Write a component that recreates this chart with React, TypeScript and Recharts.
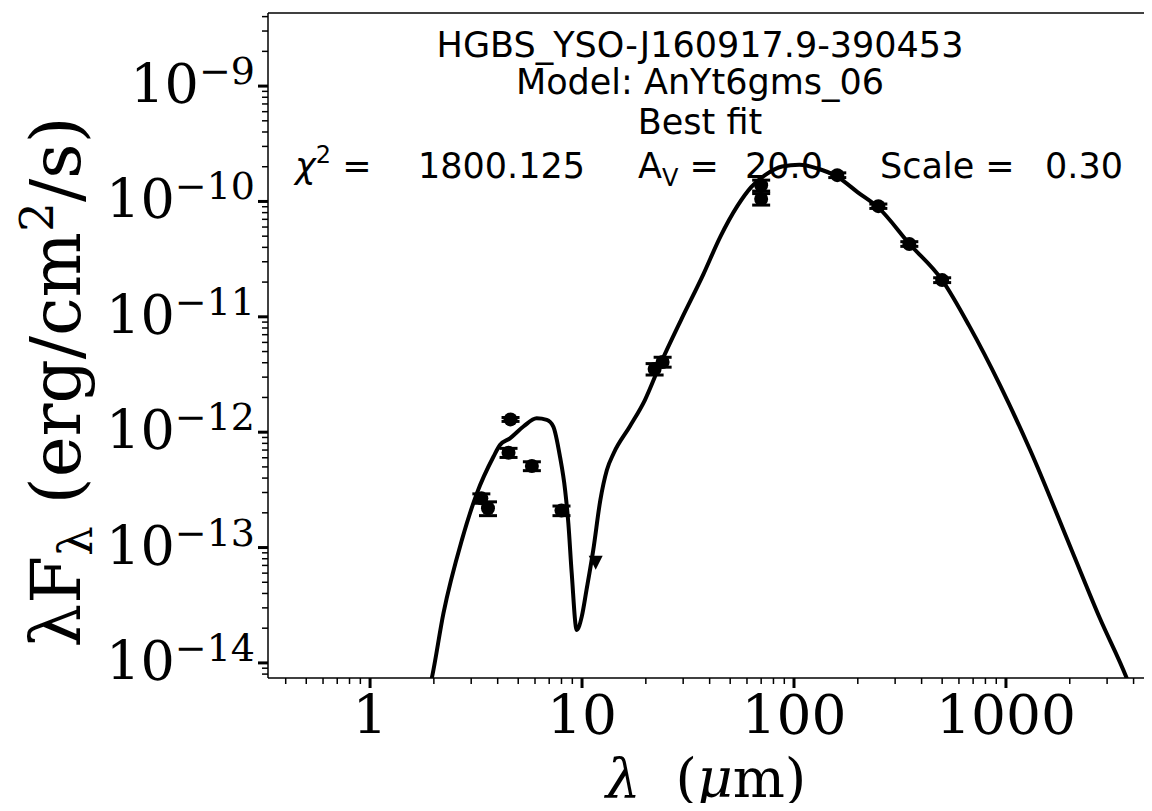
import { ComposedChart, Line, Scatter, XAxis, YAxis, ErrorBar, ReferenceLine } from "recharts";

// model SED (wavelength in micron, lambda*F_lambda in erg/cm2/s)
const modelWave = [1.85, 1.955, 2.22, 2.71, 3.19, 3.82, 4.1, 4.57, 5.29, 6.11, 6.82, 7.32, 7.87, 8.32, 8.62, 8.94, 9.44, 9.97, 10.5, 11.3, 12.2, 13.1, 14.1, 16.8, 19.8, 23.3, 29.3, 37.3, 44.9, 54.1, 62.8, 73.0, 87.9, 106, 128, 160, 200, 250, 350, 499, 672, 937, 1300, 2040, 2770, 3710, 4060];
const modelFlux = [4.8e-15, 7.36e-15, 2.7e-14, 1.16e-13, 2.95e-13, 6.13e-13, 7.75e-13, 8.85e-13, 1.12e-12, 1.32e-12, 1.28e-12, 1.12e-12, 6.14e-13, 3.16e-13, 1.62e-13, 5.99e-14, 1.93e-14, 2.52e-14, 4.29e-14, 9.54e-14, 2.58e-13, 4.7e-13, 6.56e-13, 1.12e-12, 1.9e-12, 3.82e-12, 9.37e-12, 2.32e-11, 4.93e-11, 9.14e-11, 1.33e-10, 1.69e-10, 2.01e-10, 2.08e-10, 1.94e-10, 1.64e-10, 1.2e-10, 8.84e-11, 4.3e-11, 2.09e-11, 8.3e-12, 2.56e-12, 7.01e-13, 9.53e-14, 2.45e-14, 7.4e-15, 4.8e-15];

// photometry
const photWave = [3.35, 3.6, 4.5, 4.6, 5.8, 8.0, 22, 24, 70, 70, 160, 250, 350, 500];
const photFlux = [2.67e-13, 2.19e-13, 6.64e-13, 1.29e-12, 5.09e-13, 2.09e-13, 3.53e-12, 4.06e-12, 1.38e-10, 1.05e-10, 1.69e-10, 9.1e-11, 4.28e-11, 2.08e-11];
const photErr = [2.5e-14, 3e-14, 6e-14, 5e-14, 4.5e-14, 2e-14, 4e-13, 4e-13, 1.5e-11, 1.2e-11, 8e-12, 4e-12, 2e-12, 1e-12];

// upper limits
const limitWave = [11.6];
const limitFlux = [7.55e-14];

const xMajor = [1, 10, 100, 1000];
const xMajorLabels = ["1", "10", "100", "1000"];
const yMajor = [1e-14, 1e-13, 1e-12, 1e-11, 1e-10, 1e-9];

const X_MIN = 0.33;
const X_MAX = 4886;
const Y_MIN = 7.4e-15;
const Y_MAX = 4.3e-9;

const modelData = modelWave.map((x, i) => ({ x, y: modelFlux[i] }));
const photData = photWave.map((x, i) => ({ x, y: photFlux[i], err: photErr[i] }));
const limitData = limitWave.map((x, i) => ({ x, y: limitFlux[i] }));

// minor ticks at 2..9 of each decade, inside the domain
function logTicks(min: number, max: number) {
  const out: number[] = [];
  for (let e = Math.floor(Math.log10(min)); e <= Math.ceil(Math.log10(max)); e++) {
    for (let m = 1; m <= 9; m++) {
      const v = m * Math.pow(10, e);
      if (v >= min && v <= max) out.push(v);
    }
  }
  return out;
}
const xTicks = logTicks(X_MIN, X_MAX);
const yTicks = logTicks(Y_MIN, Y_MAX);

const isMajor = (v: number, list: number[]) => list.findIndex((m) => Math.abs(v / m - 1) < 1e-6);

const SERIF = "DejaVu Serif";
const SANS = "DejaVu Sans";

function XTick(props: any) {
  const { x, y, payload } = props;
  const idx = isMajor(payload.value, xMajor);
  const major = idx >= 0;
  return (
    <g>
      <line x1={x} x2={x} y1={y} y2={y + (major ? 10 : 6)} stroke="#000" strokeWidth={major ? 3 : 1.5} />
      {major && (
        <text x={x} y={y + 56} textAnchor="middle" fontFamily={SERIF} fontSize={55} fill="#000">
          {xMajorLabels[idx]}
        </text>
      )}
    </g>
  );
}

function YTick(props: any) {
  const { x, y, payload } = props;
  const major = isMajor(payload.value, yMajor) >= 0;
  const exp = Math.round(Math.log10(payload.value));
  return (
    <g>
      <line x1={x - (major ? 10 : 6)} x2={x} y1={y} y2={y} stroke="#000" strokeWidth={major ? 3 : 1.5} />
      {major && (
        <text x={x - 13} y={y + 17} textAnchor="end" fontFamily={SERIF} fontSize={54} fill="#000">
          10<tspan dy={-19} fontSize={38}>{"\u2212" + Math.abs(exp)}</tspan>
        </text>
      )}
    </g>
  );
}

function Dot(props: any) {
  const { cx, cy } = props;
  return <circle cx={cx} cy={cy} r={7} fill="#000" />;
}

function DownTriangle(props: any) {
  const { cx, cy } = props;
  return <polygon points={`${cx - 7},${cy - 6} ${cx + 7},${cy - 6} ${cx},${cy + 8}`} fill="#000" />;
}

export default function App() {
  const W = 1144;
  const H = 803;
  return (
    <div style={{ position: "relative", width: W, height: H, marginBottom: -8 }}>
      <ComposedChart width={W} height={H} margin={{ top: 5, right: 0, bottom: 0, left: 0 }}>
        <XAxis
          dataKey="x"
          type="number"
          scale="log"
          domain={[X_MIN, X_MAX]}
          allowDataOverflow
          ticks={xTicks}
          interval={0}
          tickSize={0}
          tickMargin={0}
          tick={<XTick />}
          height={133}
          axisLine={{ stroke: "#000", strokeWidth: 1.5 }}
        />
        <YAxis
          dataKey="y"
          type="number"
          scale="log"
          domain={[Y_MIN, Y_MAX]}
          allowDataOverflow
          ticks={yTicks}
          interval={0}
          tickSize={0}
          tickMargin={0}
          tick={<YTick />}
          width={260}
          axisLine={{ stroke: "#000", strokeWidth: 1.5 }}
        />
        <ReferenceLine y={Y_MAX} stroke="#000" strokeWidth={1.5} />
        <Line
          data={modelData}
          dataKey="y"
          type="monotone"
          stroke="#000"
          strokeWidth={4}
          dot={false}
          activeDot={false}
          isAnimationActive={false}
        />
        <Scatter data={photData} fill="#000" shape={<Dot />} isAnimationActive={false}>
          <ErrorBar dataKey="err" direction="y" width={9} strokeWidth={3} stroke="#000" />
        </Scatter>
        <Scatter data={limitData} fill="#000" shape={<DownTriangle />} isAnimationActive={false} />
      </ComposedChart>

      <svg
        width={W}
        height={H}
        style={{ position: "absolute", left: 0, top: 0, pointerEvents: "none", overflow: "visible" }}
      >
        <g fontFamily={SANS} fontSize={35} fill="#000">
          <text x={692} y={49} textAnchor="middle">HGBS_YSO-J160917.9-390453</text>
          <text x={692} y={86} textAnchor="middle">Model: AnYt6gms_06</text>
          <text x={692} y={126} textAnchor="middle">Best fit</text>
          <text x={287} y={170} style={{ whiteSpace: "pre" }}>
            <tspan fontStyle="italic">χ</tspan>
            <tspan dy={-15} fontSize={24}>2</tspan>
            <tspan dy={15}>{" ="}</tspan>
          </text>
          <text x={410} y={170}>1800.125</text>
          <text x={630} y={170} style={{ whiteSpace: "pre" }}>
            A<tspan dy={8} fontSize={24}>V</tspan>
            <tspan dy={-8}>{" ="}</tspan>
          </text>
          <text x={737} y={170}>20.0</text>
          <text x={872} y={170} style={{ whiteSpace: "pre" }}>{"Scale ="}</text>
          <text x={1115} y={170} textAnchor="end">0.30</text>
        </g>
        <text transform="translate(72,374) rotate(-90)" textAnchor="middle" fontFamily={SERIF} fontSize={69} fill="#000">
          λF<tspan dy={12} fontSize={47}>λ</tspan>
          <tspan dy={-12}> (erg/cm</tspan>
          <tspan dy={-27} fontSize={47}>2</tspan>
          <tspan dy={27}>/s)</tspan>
        </text>
        <text x={698} y={789} textAnchor="middle" fontFamily={SERIF} fontSize={55} fill="#000" style={{ whiteSpace: "pre" }}>
          <tspan fontStyle="italic">λ</tspan>{"  ("}<tspan fontStyle="italic">μ</tspan>m)
        </text>
      </svg>
    </div>
  );
}
